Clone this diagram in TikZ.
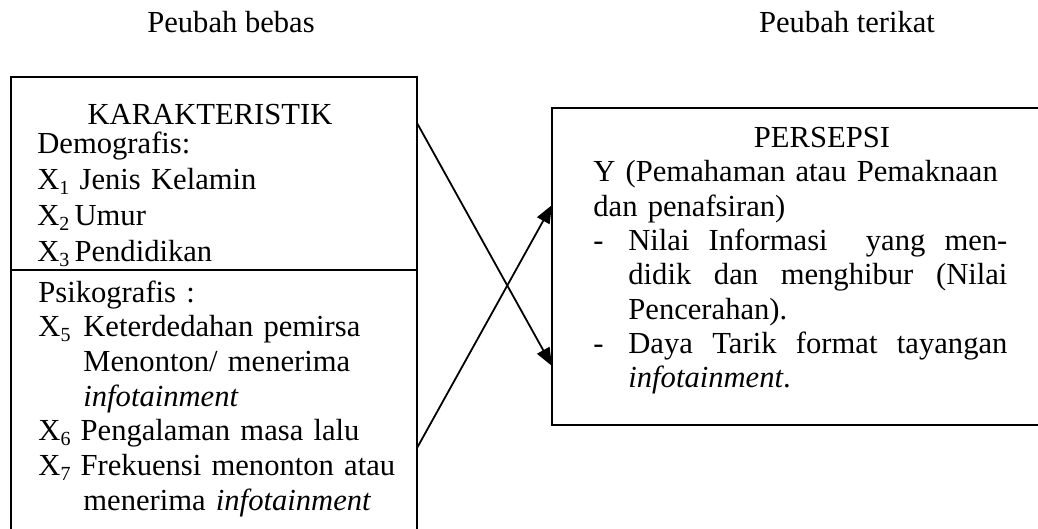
\documentclass[tikz,border=0pt]{standalone}
\usepackage{fontspec}
\setmainfont{Liberation Serif}
\usetikzlibrary{arrows.meta}
\usetikzlibrary{positioning}

\newcommand{\xvar}[1]{X\raisebox{-2.5pt}{\fontsize{10}{10}\selectfont #1}}
% justified line of the list on the right
\newcommand{\jline}[1]{\hbox to 189.5pt{#1}}
\newcommand{\itemdash}{\makebox[17.5pt][l]{-}}

\tikzset {
  box/.style = {
    draw = black,
    line width = 1pt,
    rectangle,
    anchor = north west,
    inner sep = 0,
    outer sep = 0
  },
  % heading above or inside a box
  heading/.style = {
    anchor = base,
    inner sep = 0
  },
  % block of lines inside a box
  textblock/.style = {
    anchor = base west,
    inner sep = 0,
    text width = #1,
    align = left
  },
  textblock/.default = 200pt,
  link/.style = {
    draw = black,
    line width = 0.9pt,
    -{Triangle[length = 9pt, width = 7pt]}
  }
}

\begin{document}
\begin{tikzpicture}[x = 0.5pt, y = -0.5pt, font = \fontsize{15.3}{17.3}\selectfont]
    \useasboundingbox (0,0) rectangle (1038,529);
    \clip (0,0) rectangle (1038,529);

    \node[heading] (bebas) at (231,33) {Peubah bebas};
    \node[heading] (terikat) at (847,33) {Peubah terikat};

    % boxes
    \node[box, minimum width = 203pt, minimum height = 96.5pt] (demo) at (11,77) {};
    \node[box, minimum width = 203pt, minimum height = 150pt] (psiko) at (11,270) {};
    \node[box, minimum width = 259pt, minimum height = 158.5pt] (persepsi) at (552,108) {};

    % texts
    \node[heading] (karak-title) at (210,125) {KARAKTERISTIK};
    \node[textblock = 180pt, font = \fontsize{15.3}{18}\selectfont] (demo-text) at (37,154) {Demografis:\\
      \xvar{1} Jenis Kelamin\\
      \xvar{2}\,Umur\\
      \xvar{3}\,Pendidikan};
    \node[textblock = 185pt, font = \fontsize{15.3}{17.35}\selectfont] (psiko-text) at (38,302) {Psikografis :\\
      \makebox[22.5pt][l]{\xvar{5}}Keterdedahan pemirsa\\
      \hspace*{22.5pt}Menonton/ menerima\\
      \hspace*{22.5pt}\textit{infotainment}\\
      \xvar{6} Pengalaman masa lalu\\
      \xvar{7} Frekuensi menonton atau\\
      \hspace*{22.5pt}menerima \textit{infotainment}};
    \node[heading] (persepsi-title) at (822,148) {PERSEPSI};
    \node[textblock = 215pt, font = \fontsize{15.3}{17.15}\selectfont] (persepsi-text) at (593,182) {Y (Pemahaman atau Pemaknaan\\
      dan penafsiran)\\
      \itemdash\jline{Nilai\hfill Informasi\hfill\hfill yang\hfill men-}\\
      \hspace*{17.5pt}\jline{didik\hfill dan\hfill menghibur\hfill (Nilai}\\
      \hspace*{17.5pt}Pencerahan).\\
      \itemdash\jline{Daya\hfill Tarik\hfill format\hfill tayangan}\\
      \hspace*{17.5pt}\textit{infotainment}.};

    % crossing links
    \path (demo.north east) ++(0,46) coordinate (from-demo);
    \path (psiko.north east) ++(0,178) coordinate (from-psiko);
    \path (persepsi.north west) ++(0,258) coordinate (to-low);
    \path (persepsi.north west) ++(0,97) coordinate (to-high);

    \draw[link] (from-demo) -- (to-low);
    \draw[link] (from-psiko) -- (to-high);
  \end{tikzpicture}
\end{document}
